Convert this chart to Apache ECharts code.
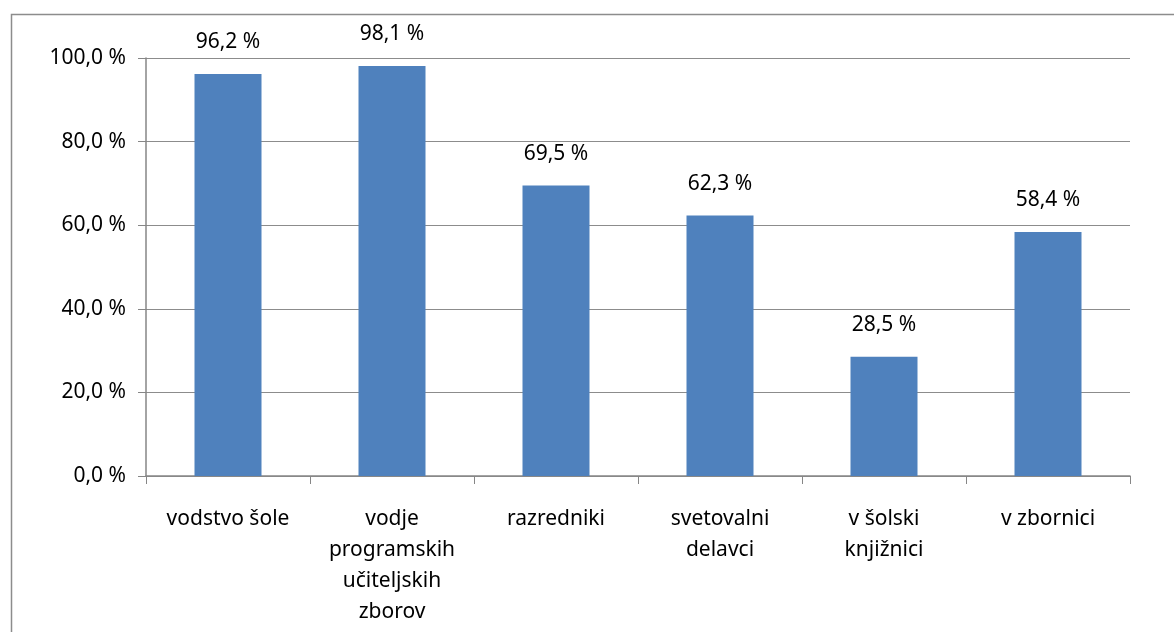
<!DOCTYPE html>
<html>
<head>
<meta charset="utf-8">
<script src="https://cdn.jsdelivr.net/npm/echarts@6/dist/echarts.min.js"></script>
<style>
  html, body { margin: 0; padding: 0; background: #fff; }
  #chart { width: 1174px; height: 632px; }
</style>
</head>
<body>
<div id="chart"></div>
<script>
// kategorije in vrednosti (v %)
const categories = ['vodstvo šole', 'vodje\nprogramskih\nučiteljskih\nzborov', 'razredniki', 'svetovalni\ndelavci', 'v šolski\nknjižnici', 'v zbornici'];
const values = [96.2, 98.1, 69.5, 62.3, 28.5, 58.4];
const yTicks = [0, 20, 40, 60, 80, 100];

const fmt = v => v.toFixed(1).replace('.', ',') + ' %';
const font = '"Noto Sans", sans-serif';

const chart = echarts.init(document.getElementById('chart'));

chart.setOption({
    animation: false,
    backgroundColor: '#fff',
    graphic: [{
        type: 'rect',
        left: 9, top: 12,
        shape: { width: 1300, height: 800 },
        style: { fill: 'none', stroke: '#8c8c8c', lineWidth: 1.5 },
        silent: true
    }],
    grid: { left: 146, right: 44, top: 58, bottom: 156 },
    xAxis: {
        type: 'category',
        data: categories,
        axisLine: { lineStyle: { color: '#868686', width: 1.5 } },
        axisTick: { show: true, length: 8, alignWithLabel: false, lineStyle: { color: '#868686' } },
        axisLabel: {
            interval: 0, margin: 28, color: '#000',
            fontFamily: font, fontSize: 21, lineHeight: 31
        }
    },
    yAxis: {
        type: 'value',
        min: yTicks[0], max: yTicks[yTicks.length - 1], interval: 20,
        axisLine: { show: true, lineStyle: { color: '#868686', width: 1.5 } },
        axisTick: { show: true, length: 8, lineStyle: { color: '#868686' } },
        splitLine: { lineStyle: { color: '#8c8c8c', width: 1 } },
        axisLabel: {
            margin: 20, color: '#000',
            fontFamily: font, fontSize: 21,
            formatter: fmt
        }
    },
    series: [{
        type: 'bar',
        data: values,
        barWidth: 67,
        itemStyle: { color: '#4F81BD' },
        label: {
            show: true, position: 'top', distance: 21,
            color: '#000', fontFamily: font, fontSize: 21,
            formatter: p => fmt(p.value)
        }
    }]
});
</script>
</body>
</html>
